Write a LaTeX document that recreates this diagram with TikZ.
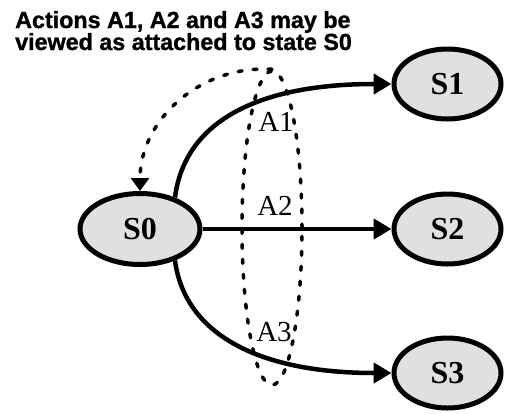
\documentclass[tikz,border=0pt]{standalone}
\usepackage{fontspec}
\setmainfont{Liberation Serif}
\newfontfamily\headfont[BoldFeatures={FakeBold=1.2}]{Liberation Sans}
\usetikzlibrary{arrows.meta,shapes.geometric}

\begin{document}
\begin{tikzpicture}[x=1pt,y=-1pt,
  state/.style={ellipse,draw,line width=5pt,fill=black!12,inner sep=0pt,
    minimum width=107pt,minimum height=70pt,
    font=\bfseries\fontsize{32}{32}\selectfont},
  act/.style={anchor=base,inner sep=0pt,font=\fontsize{29}{29}\selectfont},
  head/.style={anchor=base west,inner sep=0pt,
    font=\headfont\bfseries\fontsize{23.3}{23.3}\selectfont},
  trans/.style={line width=4.5pt,-{Triangle[length=18pt,width=20pt]}},
  dsh/.style={line width=3.5pt,line cap=round,dash pattern=on 4pt off 11pt},
]
\useasboundingbox (0,0) rectangle (505,413);

% caption
\node[head] (t1) at (15,28) {Actions A1, A2 and A3 may be};
\node[head] (t2) at (15,50) {viewed as attached to state S0};

% states
\node[state,minimum width=120pt,minimum height=71pt] (S0) at (140,229) {S0};
\node[state] (S1) at (447.5,84) {S1};
\node[state] (S2) at (447.5,229) {S2};
\node[state] (S3) at (447.5,373) {S3};

% group of actions attached to S0
\node[dsh,draw,ellipse,minimum width=60pt,minimum height=314pt] (grp) at (272,228) {};
\draw[dsh,-{Triangle[length=13pt,width=18pt]}]
  (grp.north) .. controls (200,65) and (140,120) .. (S0.north);

% transitions
\draw[trans] (S0.42) .. controls (185,120) and (260,84) .. (S1.west);
\draw[trans] (S0.east) -- (S2.west);
\draw[trans] (S0.-42) .. controls (185,335) and (260,373) .. (S3.west);

% action labels
\node[act] (a1) at (276,131) {A1};
\node[act] (a2) at (275,215) {A2};
\node[act] (a3) at (274,341) {A3};
\end{tikzpicture}
\end{document}
